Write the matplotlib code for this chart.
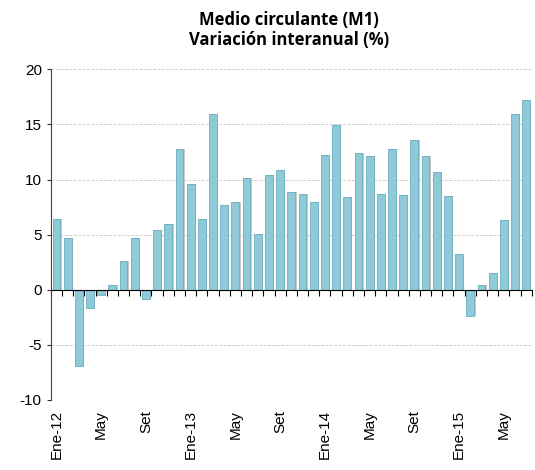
import numpy as np
import matplotlib
matplotlib.use("Agg")
import matplotlib.pyplot as plt

# Monthly M1 year-on-year growth, Ene-12 .. Jul-15
values = [6.4, 4.7, -6.9, -1.7, -0.5, 0.4, 2.6, 4.7, -0.8, 5.4, 6.0, 12.8,
          9.6, 6.4, 15.9, 7.7, 8.0, 10.1, 5.1, 10.4, 10.9, 8.9, 8.7, 8.0,
          12.2, 14.9, 8.4, 12.4, 12.1, 8.7, 12.8, 8.6, 13.6, 12.1, 10.7, 8.5,
          3.2, -2.4, 0.4, 1.5, 6.3, 15.95, 17.2]
tick_labels = ["Ene-12", "May", "Set", "Ene-13", "May", "Set",
               "Ene-14", "May", "Set", "Ene-15", "May"]
title = "Medio circulante (M1)\nVariación interanual (%)"

plt.rcParams['font.family'] = ['Liberation Sans', 'DejaVu Sans']
plt.rcParams['axes.unicode_minus'] = False

fig = plt.figure(figsize=(5.35, 4.70), dpi=100)
ax = fig.add_axes([0.095, 0.149, 0.899, 0.7036])

x = np.arange(len(values))
# soft shadow behind each bar, then the bar itself
ax.bar(x + 0.12, values, width=0.7, color='#c9c9c9', zorder=2)
ax.bar(x, values, width=0.7, color='#8ecad8', edgecolor='#6aaebf',
       linewidth=0.6, zorder=3)

ax.set_xlim(-0.5, len(values) - 0.5)
ax.set_ylim(-10, 20)
ax.set_yticks(np.arange(-10, 21, 5))
ax.tick_params(axis='y', labelsize=11, length=3, color='#333333')
ax.grid(axis='y', color='#c8c8c8', linestyle='--', linewidth=0.6, zorder=0)

# x axis line sits at zero, with ticks between months
ax.spines['bottom'].set_position(('data', 0))
ax.spines['bottom'].set_zorder(4)
ax.set_xticks(np.arange(-0.5, len(values), 1))
ax.tick_params(axis='x', direction='out', length=4, labelbottom=False,
               color='black', width=0.8)
ax.spines['top'].set_visible(False)
ax.spines['right'].set_visible(False)
ax.spines['left'].set_linestyle((0, (2, 1)))
ax.spines['left'].set_color('#444444')

sec = ax.secondary_xaxis(0.0)
sec.set_xticks(np.arange(0, len(values), 4))
sec.set_xticklabels(tick_labels, rotation=90, fontsize=11)
sec.tick_params(length=0, pad=7)
sec.spines['bottom'].set_visible(False)

fig.text(0.54, 0.936, title, ha='center', va='center', fontsize=12,
         fontweight='bold', family=['Open Sans', 'DejaVu Sans'], linespacing=1.2)

fig.savefig("out.png", dpi=100)
